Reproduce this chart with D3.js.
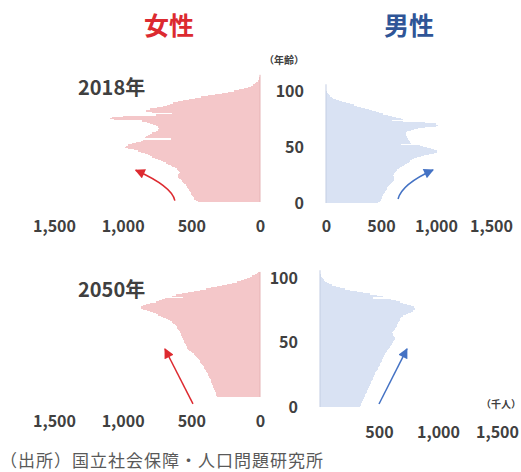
<!DOCTYPE html>
<html>
<head>
<meta charset="utf-8">
<script src="https://cdn.jsdelivr.net/npm/d3@7"></script>
<style>
  body { margin: 0; background: #fff; }
  svg { display: block; font-family: "Noto Sans CJK JP", "Noto Sans", sans-serif; }
</style>
</head>
<body>
<svg id="chart" width="521" height="472"></svg>
<script>

// ages 0..105 (single years)
const ages = d3.range(0, 106);

// population by age, thousands
const female2018 = [
  455,468,478,484,490,494,500,505,512,518,
  520,526,534,536,541,552,560,570,576,588,
  598,600,596,590,586,590,598,606,620,638,
  650,668,684,704,724,744,764,784,800,816,
  840,865,890,920,960,985,975,960,930,900,
  870,850,650,840,830,815,800,790,760,745,
  740,735,745,760,780,800,820,860,1060,1090,
  1075,1000,760,640,790,830,830,800,750,705,
  680,655,630,595,560,520,475,430,380,325,
  275,230,190,150,118,90,68,50,36,26,
  18,12,8,5,3,2
];
const male2018 = [
  470,487,496,502,508,512,518,522,528,534,
  538,545,550,556,562,574,582,592,600,610,
  618,620,618,614,612,614,618,624,634,648,
  660,676,690,706,722,738,752,768,784,800,
  830,860,895,935,985,1010,1005,985,955,915,
  880,850,680,770,760,750,745,745,740,735,
  730,725,730,740,770,800,840,900,1000,1020,
  1000,900,700,600,700,680,640,600,560,520,
  480,450,420,390,355,320,285,250,215,180,
  145,115,90,68,50,36,25,17,11,7,
  4,3,2,1,1,0
];
const female2050 = [
  315,318,320,323,326,329,332,336,340,344,
  348,351,354,357,360,364,368,372,377,382,
  386,390,395,400,405,410,416,422,428,434,
  440,444,450,458,466,474,484,494,504,514,
  522,528,532,536,540,545,550,556,560,562,
  565,568,572,576,580,585,590,596,602,608,
  614,622,632,644,658,672,688,705,722,740,
  760,780,800,825,850,865,870,855,830,800,
  760,735,715,690,560,640,610,570,525,480,
  435,395,355,315,275,240,205,170,140,115,
  95,75,55,40,25,12
];
const male2050 = [
  340,344,349,354,359,364,369,374,380,385,
  390,395,400,405,410,415,420,425,430,435,
  440,445,450,455,460,465,470,476,482,488,
  494,500,506,512,518,524,528,532,538,544,
  548,552,556,565,575,585,595,605,612,612,
  620,628,635,635,630,622,615,610,615,625,
  635,645,650,655,660,665,670,675,680,690,
  705,725,748,770,790,802,808,800,770,735,
  705,680,640,600,450,535,480,420,365,310,
  255,210,170,135,105,80,60,45,32,22,
  15,10,6,4,2,1
];

const years = ["2018年", "2050年"];
const sexes = ["女性", "男性"];
const popTicks = [0, 500, 1000, 1500];
const ageTicks = [0, 50, 100];
const source = "（出所）国立社会保障・人口問題研究所";

let colors = {
  female: "#f4c7c9", femaleLine: "#e6b3b5", femaleText: "#dc2a30", femaleArrow: "#dd2a30",
  male: "#d9e2f3", maleLine: "#c3cde3", maleText: "#2f5597", maleArrow: "#4472c4",
  text: "#404040"
};

let svg = d3.select("#chart");
let defs = svg.append("defs");

let addMarker = function(id, color) {
  defs.append("marker")
      .attr("id", id)
      .attr("viewBox", "0 0 10 10")
      .attr("refX", 9)
      .attr("refY", 5)
      .attr("markerUnits", "userSpaceOnUse")
      .attr("markerWidth", 11)
      .attr("markerHeight", 10)
      .attr("orient", "auto")
      .append("path")
      .attr("d", "M0,0 L10,5 L0,10 z")
      .attr("fill", color);
};
addMarker("head-f", colors.femaleArrow);
addMarker("head-m", colors.maleArrow);

// one half-pyramid
let drawSide = function(p) {
  let x = d3.scaleLinear().domain([0, 1500]).range(p.xRange);
  let y = d3.scaleLinear().domain([0, 106]).range(p.yRange);
  let female = p.sex == "female";

  let g = svg.append("g").attr("class", "side " + p.sex);

  // bars snapped to whole pixels so neighbouring ages don't leave seams
  g.append("g")
   .attr("shape-rendering", "crispEdges")
   .selectAll("rect")
   .data(p.values)
   .join("rect")
   .attr("x", d => Math.min(x(0), x(d)))
   .attr("width", d => Math.abs(x(d) - x(0)))
   .attr("y", (d, i) => Math.round(y(ages[i] + 1)))
   .attr("height", (d, i) => Math.round(y(ages[i])) - Math.round(y(ages[i] + 1)))
   .attr("fill", female ? colors.female : colors.male);

  g.append("line")
   .attr("x1", x(0)).attr("x2", x(0))
   .attr("y1", y(106)).attr("y2", y(0))
   .attr("stroke", female ? colors.femaleLine : colors.maleLine)
   .attr("stroke-width", 1);

  let axis = g.append("g")
              .attr("transform", "translate(0," + p.tickY + ")")
              .call(d3.axisBottom(x).tickValues(p.ticks).tickSize(0).tickFormat(d3.format(",")));
  axis.select(".domain").remove();
  axis.selectAll("text")
      .attr("y", 0)
      .attr("dy", "0.35em")
      .attr("fill", colors.text)
      .style("font-size", "16px")
      .style("font-weight", "bold")
      .style("font-family", "'Noto Sans CJK JP', sans-serif");

  // arrow given in data units [value, age]
  let a = p.arrow.map(pt => [x(pt[0]), y(pt[1])]);
  let dPath = a.length == 3
    ? "M" + a[0] + " Q" + a[1] + " " + a[2]
    : "M" + a[0] + " L" + a[1];
  g.append("path")
   .attr("d", dPath)
   .attr("fill", "none")
   .attr("stroke", female ? colors.femaleArrow : colors.maleArrow)
   .attr("stroke-width", 1.5)
   .attr("marker-end", female ? "url(#head-f)" : "url(#head-m)");

  return y;
};

let panels = [
  { sex: "female", values: female2018, xRange: [260, 54], yRange: [202, 202 - 106 * 1.2],
    tickY: 226, ticks: popTicks, arrow: [[620, 1.2], [640, 13], [905, 26.5]] },
  { sex: "male", values: male2018, xRange: [326, 491], yRange: [203, 203 - 106 * 1.12],
    tickY: 226, ticks: popTicks, arrow: [[655, 3.6], [690, 17], [973, 29.5]], ageX: 304 },
  { sex: "female", values: female2050, xRange: [260, 54], yRange: [397, 397 - 106 * 1.18],
    tickY: 421, ticks: popTicks, arrow: [[488, -5.9], [692, 40.7]] },
  { sex: "male", values: male2050, xRange: [320, 497], yRange: [407, 407 - 106 * 1.29],
    tickY: 432, ticks: popTicks.slice(1), arrow: [[500, 2.3], [737, 45]], ageX: 298 }
];

panels.forEach(function(p) {
  let y = drawSide(p);
  if (p.sex == "male") {
    let ageAxis = svg.append("g")
                     .attr("transform", "translate(" + p.ageX + ",0)")
                     .call(d3.axisLeft(y).tickValues(ageTicks).tickSize(0).tickPadding(0).tickFormat(d3.format("d")));
    ageAxis.select(".domain").remove();
    ageAxis.selectAll("text")
           .attr("fill", colors.text)
           .style("font-size", "16px")
           .style("font-weight", "bold")
           .style("font-family", "'Noto Sans CJK JP', sans-serif");
  }
});

// titles and notes
svg.append("text")
   .attr("x", 169).attr("y", 35)
   .attr("text-anchor", "middle")
   .attr("fill", colors.femaleText)
   .style("font-size", "25px").style("font-weight", "bold")
   .text(sexes[0]);
svg.append("text")
   .attr("x", 409).attr("y", 35)
   .attr("text-anchor", "middle")
   .attr("fill", colors.maleText)
   .style("font-size", "25px").style("font-weight", "bold")
   .text(sexes[1]);

svg.append("text")
   .attr("x", 284).attr("y", 64)
   .attr("text-anchor", "middle")
   .attr("fill", colors.text)
   .style("font-size", "10px").style("font-weight", "bold")
   .text("（年齢）");

svg.selectAll("text.year")
   .data(years)
   .join("text")
   .attr("class", "year")
   .attr("x", 78)
   .attr("y", (d, i) => i == 0 ? 95 : 297)
   .attr("fill", colors.text)
   .style("font-size", "20px").style("font-weight", "bold")
   .text(d => d);

svg.append("text")
   .attr("x", 521).attr("y", 408)
   .attr("text-anchor", "end")
   .attr("fill", colors.text)
   .style("font-size", "10px").style("font-weight", "bold")
   .text("（千人）");

svg.append("text")
   .attr("x", 0).attr("y", 467)
   .attr("fill", "#595959")
   .style("font-size", "17px")
   .style("letter-spacing", "1px")
   .text(source);

</script>
</body>
</html>
